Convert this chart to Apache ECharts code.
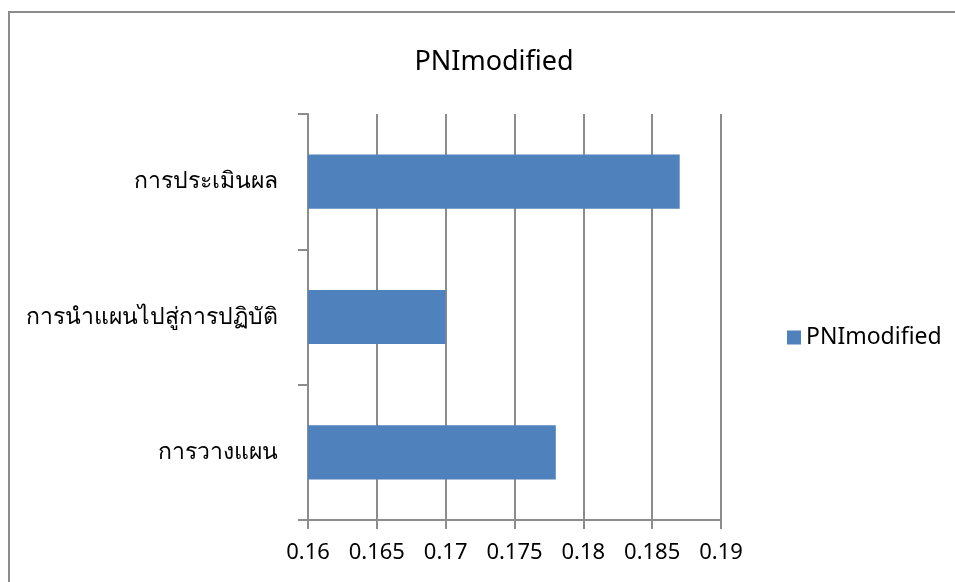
<!DOCTYPE html>
<html>
<head>
<meta charset="utf-8">
<script src="https://cdn.jsdelivr.net/npm/echarts@6/dist/echarts.min.js"></script>
<style>
  html, body { margin: 0; padding: 0; background: #fff; }
  #chart { width: 955px; height: 582px; }
</style>
</head>
<body>
<div id="chart"></div>
<script>
// ข้อมูล (ล่างขึ้นบน)
const categories = ['การวางแผน', 'การนำแผนไปสู่การปฏิบัติ', 'การประเมินผล'];
const pniValues = [0.178, 0.170, 0.187];
const seriesName = 'PNImodified';

const colors = {
  bar: '#4f81bd',
  line: '#8c8c8c',
  text: '#000000',
};
const fontFamily = '"Noto Sans", "Open Sans", "DejaVu Sans", sans-serif';

const option = {
  animation: false,
  title: {
    text: seriesName,
    left: 489,
    textAlign: 'center',
    top: 44,
    textStyle: { color: colors.text, fontSize: 27, fontWeight: 'normal', fontFamily },
  },
  legend: {
    data: [seriesName],
    left: 782,
    top: 321,
    icon: 'rect',
    itemWidth: 14,
    itemHeight: 14,
    itemGap: 8,
    textStyle: { color: colors.text, fontSize: 23, fontFamily },
  },
  grid: { left: 308, right: 234, top: 114, bottom: 62, containLabel: false },
  xAxis: {
    type: 'value',
    min: 0.16,
    max: 0.19,
    interval: 0.005,
    axisLine: { show: true, lineStyle: { color: colors.line, width: 2 } },
    axisTick: { show: true, length: 9, lineStyle: { color: colors.line, width: 2 } },
    splitLine: { show: true, lineStyle: { color: colors.line, width: 2 } },
    axisLabel: { color: colors.text, fontSize: 22, margin: 22, fontFamily },
  },
  yAxis: {
    type: 'category',
    data: categories,
    axisLine: { show: true, lineStyle: { color: colors.line, width: 2 } },
    axisTick: { show: true, length: 10, lineStyle: { color: colors.line, width: 2 } },
    axisLabel: { color: colors.text, fontSize: 23, margin: 30, fontFamily },
  },
  series: [{
    name: seriesName,
    type: 'bar',
    data: pniValues,
    barWidth: '40%',
    itemStyle: { color: colors.bar },
  }],
  graphic: [{
    type: 'rect',
    shape: { x: 9, y: 12, width: 2000, height: 2000 },
    style: { fill: 'none', stroke: colors.line, lineWidth: 2 },
    silent: true,
  }],
};

const myChart = echarts.init(document.getElementById('chart'));
myChart.setOption(option);
</script>
</body>
</html>
